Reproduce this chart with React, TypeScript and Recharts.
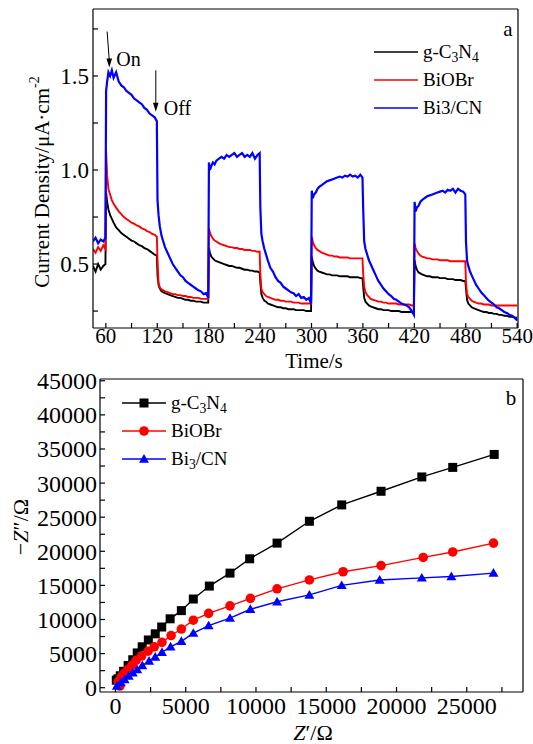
import React from 'react';
import { LineChart, Line, XAxis, YAxis, ReferenceLine, Legend, Label } from 'recharts';

const SERIF = "'Liberation Serif', 'Times New Roman', serif";

// ---- panel a: photocurrent vs time ----
const timeS = [
  45, 48, 51, 54, 57, 59.5,
  60.3, 61.5, 63, 65, 67, 69, 72, 75, 78, 81, 84, 87, 90, 93, 96, 99, 102, 105, 108, 111, 114, 117, 119.5,
  120.3, 121.5, 123, 125, 127, 129, 132, 135, 138, 141, 144, 147, 150, 153, 156, 159, 162, 165, 168, 171, 174, 177, 179.5,
  180.3, 181.5, 183, 185, 187, 189, 192, 195, 198, 201, 204, 207, 210, 213, 216, 219, 222, 225, 228, 231, 234, 237, 239.5,
  240.3, 241.5, 243, 245, 247, 249, 252, 255, 258, 261, 264, 267, 270, 273, 276, 279, 282, 285, 288, 291, 294, 297, 299.5,
  300.3, 301.5, 303, 305, 307, 309, 312, 315, 318, 321, 324, 327, 330, 333, 336, 339, 342, 345, 348, 351, 354, 357, 359.5,
  360.3, 361.5, 363, 365, 367, 369, 372, 375, 378, 381, 384, 387, 390, 393, 396, 399, 402, 405, 408, 411, 414, 417, 419.5,
  420.3, 421.5, 423, 425, 427, 429, 432, 435, 438, 441, 444, 447, 450, 453, 456, 459, 462, 465, 468, 471, 474, 477, 479.5,
  480.3, 481.5, 483, 485, 487, 489, 492, 495, 498, 501, 504, 507, 510, 513, 516, 519, 522, 525, 528, 531, 534, 537, 540,
];

const gcnCurrent = [
  0.49, 0.46, 0.50, 0.47, 0.49, 0.50,
  0.88, 0.83, 0.79, 0.76, 0.74, 0.72, 0.695, 0.68, 0.665, 0.655, 0.645, 0.635, 0.625, 0.62, 0.61, 0.60, 0.595, 0.585, 0.58, 0.57, 0.56, 0.55, 0.545,
  0.44, 0.39, 0.37, 0.355, 0.35, 0.345, 0.34, 0.335, 0.33, 0.325, 0.32, 0.32, 0.315, 0.31, 0.31, 0.305, 0.305, 0.30, 0.30, 0.30, 0.295, 0.295, 0.295,
  0.585, 0.56, 0.54, 0.53, 0.52, 0.515, 0.51, 0.505, 0.50, 0.495, 0.49, 0.49, 0.485, 0.48, 0.48, 0.475, 0.47, 0.47, 0.465, 0.465, 0.46, 0.46, 0.455,
  0.40, 0.34, 0.32, 0.305, 0.30, 0.29, 0.285, 0.28, 0.275, 0.27, 0.27, 0.265, 0.265, 0.26, 0.26, 0.26, 0.255, 0.255, 0.255, 0.255, 0.25, 0.25, 0.25,
  0.54, 0.51, 0.49, 0.475, 0.465, 0.46, 0.455, 0.45, 0.445, 0.445, 0.44, 0.44, 0.44, 0.435, 0.435, 0.435, 0.435, 0.43, 0.43, 0.43, 0.43, 0.425, 0.425,
  0.38, 0.32, 0.30, 0.29, 0.28, 0.275, 0.27, 0.265, 0.26, 0.26, 0.255, 0.255, 0.255, 0.25, 0.25, 0.25, 0.25, 0.245, 0.245, 0.245, 0.245, 0.245, 0.24,
  0.52, 0.49, 0.47, 0.455, 0.45, 0.445, 0.44, 0.435, 0.435, 0.43, 0.43, 0.43, 0.425, 0.425, 0.425, 0.42, 0.42, 0.42, 0.415, 0.415, 0.415, 0.41, 0.41,
  0.37, 0.31, 0.29, 0.28, 0.27, 0.265, 0.26, 0.255, 0.25, 0.245, 0.245, 0.24, 0.24, 0.235, 0.235, 0.23, 0.23, 0.225, 0.225, 0.22, 0.22, 0.215, 0.215,
];

const biobrCurrent = [
  0.58, 0.56, 0.59, 0.57, 0.60, 0.58,
  1.10, 0.97, 0.90, 0.87, 0.84, 0.82, 0.80, 0.78, 0.765, 0.75, 0.74, 0.73, 0.72, 0.715, 0.705, 0.70, 0.69, 0.685, 0.675, 0.67, 0.66, 0.655, 0.645,
  0.52, 0.40, 0.375, 0.365, 0.36, 0.355, 0.35, 0.345, 0.34, 0.34, 0.335, 0.335, 0.33, 0.33, 0.325, 0.325, 0.32, 0.32, 0.32, 0.315, 0.315, 0.315, 0.315,
  0.69, 0.665, 0.65, 0.635, 0.625, 0.62, 0.61, 0.605, 0.60, 0.595, 0.59, 0.59, 0.585, 0.585, 0.58, 0.58, 0.575, 0.575, 0.575, 0.57, 0.57, 0.565, 0.565,
  0.45, 0.37, 0.35, 0.34, 0.33, 0.325, 0.32, 0.315, 0.31, 0.31, 0.305, 0.305, 0.30, 0.30, 0.30, 0.295, 0.295, 0.295, 0.29, 0.29, 0.29, 0.29, 0.29,
  0.645, 0.62, 0.60, 0.585, 0.575, 0.57, 0.56, 0.555, 0.55, 0.545, 0.545, 0.54, 0.54, 0.535, 0.535, 0.535, 0.535, 0.53, 0.53, 0.53, 0.53, 0.53, 0.53,
  0.45, 0.38, 0.35, 0.335, 0.325, 0.315, 0.31, 0.305, 0.30, 0.30, 0.295, 0.295, 0.29, 0.29, 0.29, 0.29, 0.285, 0.285, 0.285, 0.285, 0.285, 0.28, 0.28,
  0.61, 0.585, 0.57, 0.555, 0.545, 0.54, 0.535, 0.53, 0.53, 0.525, 0.525, 0.525, 0.52, 0.52, 0.52, 0.52, 0.515, 0.515, 0.515, 0.515, 0.515, 0.515, 0.515,
  0.40, 0.345, 0.325, 0.315, 0.305, 0.30, 0.295, 0.29, 0.29, 0.285, 0.285, 0.285, 0.28, 0.28, 0.28, 0.28, 0.28, 0.28, 0.28, 0.28, 0.28, 0.28, 0.28,
];

const bi3cnCurrent = [
  0.62, 0.64, 0.61, 0.63, 0.62, 0.64,
  1.42, 1.47, 1.52, 1.50, 1.53, 1.49, 1.52, 1.47, 1.45, 1.44, 1.42, 1.41, 1.40, 1.38, 1.37, 1.36, 1.35, 1.33, 1.32, 1.30, 1.29, 1.28, 1.26,
  0.84, 0.76, 0.70, 0.65, 0.62, 0.59, 0.56, 0.53, 0.50, 0.48, 0.46, 0.44, 0.43, 0.41, 0.40, 0.39, 0.38, 0.37, 0.36, 0.355, 0.34, 0.345, 0.32,
  1.04, 1.00, 1.02, 1.04, 1.03, 1.05, 1.06, 1.07, 1.06, 1.08, 1.07, 1.08, 1.09, 1.07, 1.08, 1.09, 1.07, 1.08, 1.07, 1.09, 1.06, 1.08, 1.09,
  0.80, 0.66, 0.62, 0.58, 0.55, 0.52, 0.48, 0.46, 0.43, 0.41, 0.40, 0.38, 0.37, 0.36, 0.35, 0.345, 0.33, 0.34, 0.32, 0.325, 0.31, 0.32, 0.29,
  0.89, 0.85, 0.87, 0.88, 0.90, 0.91, 0.92, 0.93, 0.94, 0.945, 0.95, 0.955, 0.96, 0.965, 0.96, 0.97, 0.965, 0.975, 0.965, 0.97, 0.96, 0.975, 0.96,
  0.80, 0.62, 0.58, 0.55, 0.52, 0.50, 0.47, 0.44, 0.41, 0.39, 0.37, 0.355, 0.34, 0.33, 0.315, 0.31, 0.30, 0.29, 0.285, 0.28, 0.27, 0.25, 0.23,
  0.83, 0.78, 0.80, 0.81, 0.83, 0.84, 0.85, 0.86, 0.865, 0.87, 0.875, 0.88, 0.885, 0.89, 0.88, 0.895, 0.89, 0.90, 0.88, 0.90, 0.89, 0.885, 0.87,
  0.62, 0.52, 0.49, 0.46, 0.44, 0.42, 0.39, 0.37, 0.35, 0.335, 0.32, 0.305, 0.295, 0.285, 0.27, 0.265, 0.255, 0.245, 0.24, 0.23, 0.225, 0.215, 0.20,
];

const timeTicks = [60, 90, 120, 150, 180, 210, 240, 270, 300, 330, 360, 390, 420, 450, 480, 510, 540];
const currentTicks = [0.25, 0.5, 0.75, 1, 1.25, 1.5, 1.75];

// ---- panel b: Nyquist plot ----
const gcnZre = [60, 180, 340, 580, 900, 1230, 1550, 1900, 2340, 2830, 3290, 3890, 4690, 5540, 6680, 8150, 9550, 11500, 13800, 16100, 18900, 21800, 24000, 26950];
const gcnZim = [1100, 1300, 1750, 2400, 3250, 4100, 5100, 6000, 7000, 7900, 8900, 10100, 11300, 13000, 14900, 16800, 18900, 21200, 24400, 26800, 28800, 30900, 32300, 34200];

const biobrZre = [320, 200, 410, 620, 890, 1180, 1470, 1860, 2320, 2760, 3310, 3960, 4690, 5540, 6630, 8150, 9600, 11500, 13800, 16200, 18900, 21900, 24000, 26900];
const biobrZim = [250, 900, 1600, 2100, 2700, 3300, 4000, 4650, 5350, 6000, 6650, 7650, 8600, 9900, 10900, 12000, 13100, 14500, 15800, 17000, 17900, 19100, 19900, 21200];

const bi3cnZre = [100, 380, 650, 940, 1230, 1550, 1910, 2390, 2830, 3310, 3920, 4690, 5540, 6630, 8150, 9600, 11500, 13800, 16100, 18800, 21800, 23900, 26900];
const bi3cnZim = [250, 750, 1200, 1700, 2200, 2650, 3250, 3900, 4500, 5200, 6000, 6800, 8000, 9100, 10200, 11500, 12600, 13600, 15000, 15800, 16100, 16300, 16800];

const zreTicks = [0, 2500, 5000, 7500, 10000, 12500, 15000, 17500, 20000, 22500, 25000, 27500];
const zimTicks = [0, 2500, 5000, 7500, 10000, 12500, 15000, 17500, 20000, 22500, 25000, 27500, 30000, 32500, 35000, 37500, 40000, 42500, 45000];

const seriesOrder = ['g-C3N4', 'BiOBr', 'Bi3/CN'];

const photoData = timeS.map((t, i) => ({ t, g: gcnCurrent[i], r: biobrCurrent[i], b: bi3cnCurrent[i] }));
const toPoints = (xs: number[], ys: number[]) => xs.map((x, i) => ({ x, y: ys[i] }));
const gcnNyq = toPoints(gcnZre, gcnZim);
const biobrNyq = toPoints(biobrZre, biobrZim);
const bi3cnNyq = toPoints(bi3cnZre, bi3cnZim);

const axisStyle = { stroke: '#000', strokeWidth: 1.2 };

const sub = (s: string) => (
  <span style={{ fontSize: '0.72em', position: 'relative', top: '0.3em' }}>{s}</span>
);

const namesA: Record<string, React.ReactNode> = {
  'g-C3N4': <>g-C{sub('3')}N{sub('4')}</>,
  BiOBr: 'BiOBr',
  'Bi3/CN': 'Bi3/CN',
};
const namesB: Record<string, React.ReactNode> = {
  'g-C3N4': <>g-C{sub('3')}N{sub('4')}</>,
  BiOBr: 'BiOBr',
  'Bi3/CN': <>Bi{sub('3')}/CN</>,
};

const marker = (name: string, color: string, cx: number, cy: number) => {
  if (name === 'g-C3N4') return <rect x={cx - 4.5} y={cy - 4.5} width={9} height={9} fill={color} />;
  if (name === 'BiOBr') return <circle cx={cx} cy={cy} r={4.8} fill={color} />;
  return <polygon points={`${cx},${cy - 5} ${cx - 5},${cy + 3.7} ${cx + 5},${cy + 3.7}`} fill={color} />;
};

const legendContent = (names: Record<string, React.ReactNode>, withMarker: boolean, rowH: number) => (props: any) => {
  const items = [...(props.payload || [])].sort(
    (a: any, b: any) => seriesOrder.indexOf(a.value) - seriesOrder.indexOf(b.value),
  );
  return (
    <div style={{ fontFamily: SERIF, fontSize: 19, color: '#000' }}>
      {items.map((e: any) => (
        <div key={e.value} style={{ display: 'flex', alignItems: 'center', height: rowH }}>
          <svg width={44} height={12}>
            <line x1={0} x2={44} y1={6} y2={6} stroke={e.color} strokeWidth={1.6} />
            {withMarker && marker(e.value, e.color, 22, 6)}
          </svg>
          <span style={{ marginLeft: 5, whiteSpace: 'nowrap' }}>{names[e.value]}</span>
        </div>
      ))}
    </div>
  );
};

const arrowShape = (text: string, dx: number, dy: number) => (p: any) => {
  const { x1, y1, x2, y2 } = p;
  return (
    <g>
      <line x1={x1} y1={y1} x2={x2} y2={y2 - 7} stroke="#000" strokeWidth={1} />
      <polygon points={`${x2},${y2} ${x2 - 2.8},${y2 - 9} ${x2 + 2.8},${y2 - 9}`} fill="#000" />
      <text x={x2 + dx} y={y2 + dy} fontSize={20} fontFamily={SERIF} fill="#000">{text}</text>
    </g>
  );
};

const dotSquare = (p: any) => <rect key={`sq${p.index}`} x={p.cx - 4.5} y={p.cy - 4.5} width={9} height={9} fill="#000" />;
const dotCircle = (p: any) => <circle key={`ci${p.index}`} cx={p.cx} cy={p.cy} r={4.8} fill="#ff0000" />;
const dotTriangle = (p: any) => (
  <polygon key={`tr${p.index}`} points={`${p.cx},${p.cy - 5} ${p.cx - 5},${p.cy + 3.7} ${p.cx + 5},${p.cy + 3.7}`} fill="#0000ff" />
);

const PhotoCurrent = () => (
  <LineChart width={533} height={382} data={photoData} margin={{ top: 9, right: 15, bottom: 0, left: 0 }}>
    <XAxis
      dataKey="t" type="number" domain={[45, 541]} allowDataOverflow ticks={timeTicks} interval={0}
      tickFormatter={(v: number) => (v % 60 === 0 ? String(v) : '')}
      tickSize={-5} tickMargin={5} height={54}
      axisLine={axisStyle} tickLine={axisStyle}
      tick={{ fill: '#000', fontSize: 21, fontFamily: SERIF }}
    >
      <Label content={() => (
        <text x={314} y={368} textAnchor="middle" fontSize={21} fontFamily={SERIF} fill="#000">Time/s</text>
      )} />
    </XAxis>
    <YAxis
      type="number" domain={[0.16, 1.856]} allowDataOverflow ticks={currentTicks} interval={0}
      tickFormatter={(v: number) => (v === 0.5 || v === 1 || v === 1.5 ? v.toFixed(1) : '')}
      tickSize={-5} tickMargin={9} width={93}
      axisLine={axisStyle} tickLine={axisStyle}
      tick={{ fill: '#000', fontSize: 23, fontFamily: SERIF }}
    >
      <Label content={() => (
        <text transform="translate(42,182) rotate(-90)" textAnchor="middle" dominantBaseline="central" fontSize={21} fontFamily={SERIF} fill="#000">
          Current Density/μA·cm<tspan dy={-8} fontSize={14}>-2</tspan>
        </text>
      )} />
    </YAxis>
    <ReferenceLine y={1.856} stroke="#000" strokeWidth={1.2} />
    <ReferenceLine x={541} stroke="#000" strokeWidth={1.2} />
    <Line dataKey="g" name="g-C3N4" stroke="#000000" strokeWidth={1.9} dot={false} isAnimationActive={false} />
    <Line dataKey="r" name="BiOBr" stroke="#ff0000" strokeWidth={1.9} dot={false} isAnimationActive={false} />
    <Line dataKey="b" name="Bi3/CN" stroke="#0000ff" strokeWidth={2.2} dot={false} isAnimationActive={false} />
    <ReferenceLine segment={[{ x: 61.5, y: 1.736 }, { x: 64, y: 1.545 }]} ifOverflow="visible" shape={arrowShape('On', 7, -1)} />
    <ReferenceLine segment={[{ x: 118.3, y: 1.53 }, { x: 118.3, y: 1.31 }]} ifOverflow="visible" shape={arrowShape('Off', 8, 3)} />
    <Legend
      layout="vertical" align="center" verticalAlign="middle"
      wrapperStyle={{ left: 374, top: 38, width: 'auto' }}
      content={legendContent(namesA, false, 28)}
    />
    <Label content={() => (
      <text x={508} y={29} textAnchor="middle" dominantBaseline="central" fontSize={21} fontFamily={SERIF} fill="#000">a</text>
    )} />
  </LineChart>
);

const Nyquist = () => (
  <LineChart width={533} height={384} margin={{ top: 19, right: 10, bottom: 0, left: 0 }}>
    <XAxis
      dataKey="x" type="number" domain={[-1100, 29000]} allowDataOverflow ticks={zreTicks} interval={0}
      tickFormatter={(v: number) => (v % 5000 === 0 ? String(v) : '')}
      tickSize={-5} tickMargin={10} height={52}
      axisLine={axisStyle} tickLine={axisStyle}
      tick={{ fill: '#000', fontSize: 24, fontFamily: SERIF }}
    >
      <Label content={() => (
        <text x={313} y={380} textAnchor="middle" fontSize={22} fontFamily={SERIF} fill="#000">
          <tspan fontStyle="italic">Z</tspan>′/Ω
        </text>
      )} />
    </XAxis>
    <YAxis
      dataKey="y" type="number" domain={[-630, 45260]} allowDataOverflow ticks={zimTicks} interval={0}
      tickFormatter={(v: number) => (v % 5000 === 0 ? String(v) : '')}
      tickSize={-5} tickMargin={8} width={100}
      axisLine={axisStyle} tickLine={axisStyle}
      tick={{ fill: '#000', fontSize: 24, fontFamily: SERIF }}
    >
      <Label content={() => (
        <text transform="translate(20,167) rotate(-90)" textAnchor="middle" dominantBaseline="central" fontSize={22} fontFamily={SERIF} fill="#000">
          −<tspan fontStyle="italic">Z</tspan>″/Ω
        </text>
      )} />
    </YAxis>
    <ReferenceLine y={45260} stroke="#000" strokeWidth={1.2} />
    <ReferenceLine x={29000} stroke="#000" strokeWidth={1.2} />
    <Line data={gcnNyq} dataKey="y" name="g-C3N4" stroke="#000000" strokeWidth={1.4} dot={dotSquare} isAnimationActive={false} />
    <Line data={biobrNyq} dataKey="y" name="BiOBr" stroke="#ff0000" strokeWidth={1.4} dot={dotCircle} isAnimationActive={false} />
    <Line data={bi3cnNyq} dataKey="y" name="Bi3/CN" stroke="#0000ff" strokeWidth={1.4} dot={dotTriangle} isAnimationActive={false} />
    <Legend
      layout="vertical" align="center" verticalAlign="middle"
      wrapperStyle={{ left: 122, top: 29, width: 'auto' }}
      content={legendContent(namesB, true, 28)}
    />
    <Label content={() => (
      <text x={511} y={38} textAnchor="middle" dominantBaseline="central" fontSize={21} fontFamily={SERIF} fill="#000">b</text>
    )} />
  </LineChart>
);

export default function App() {
  return (
    <div style={{ position: 'absolute', left: 0, top: 0, width: 533, height: 744, background: '#fff' }}>
      <div style={{ position: 'absolute', left: 0, top: 0 }}>
        <PhotoCurrent />
      </div>
      <div style={{ position: 'absolute', left: 0, top: 360 }}>
        <Nyquist />
      </div>
    </div>
  );
}
